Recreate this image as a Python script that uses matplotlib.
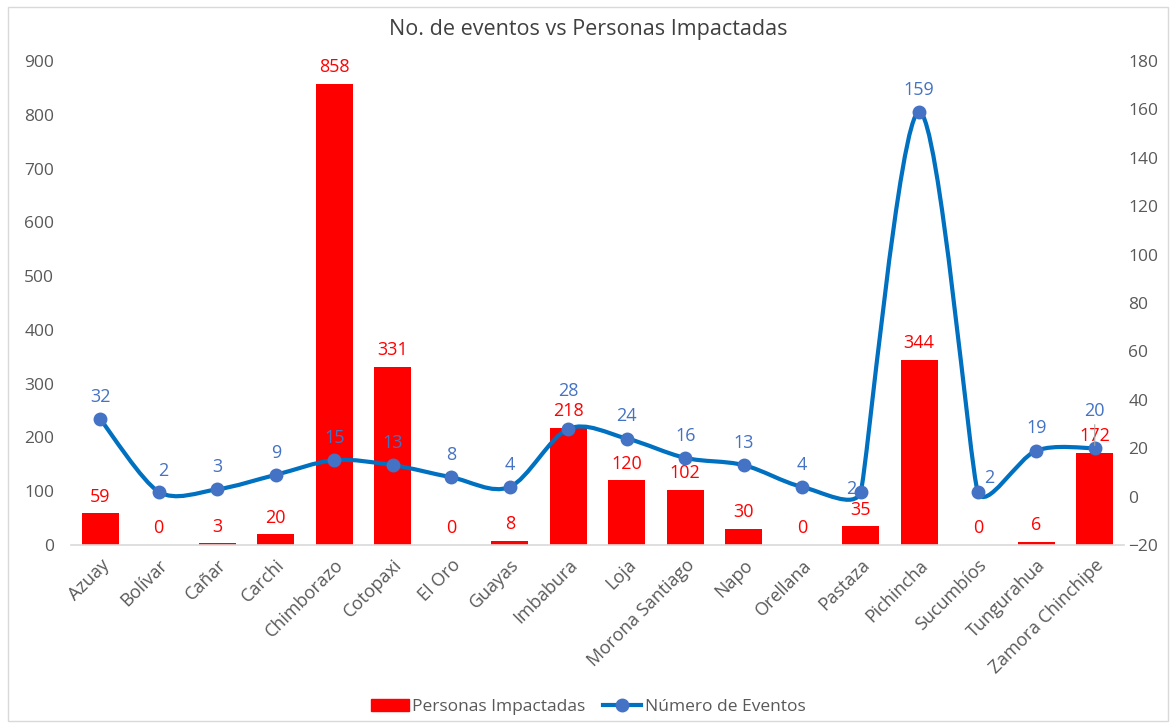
import matplotlib.pyplot as plt
import numpy as np
from matplotlib.path import Path
from matplotlib.patches import PathPatch, Rectangle, Patch
from matplotlib.lines import Line2D

plt.rcParams['font.family'] = ['Open Sans', 'DejaVu Sans']

provincias = ["Azuay", "Bolívar", "Cañar", "Carchi", "Chimborazo", "Cotopaxi",
              "El Oro", "Guayas", "Imbabura", "Loja", "Morona Santiago", "Napo",
              "Orellana", "Pastaza", "Pichincha", "Sucumbíos", "Tungurahua",
              "Zamora Chinchipe"]
personas = [59, 0, 3, 20, 858, 331, 0, 8, 218, 120, 102, 30, 0, 35, 344, 0, 6, 172]
eventos = [32, 2, 3, 9, 15, 13, 8, 4, 28, 24, 16, 13, 4, 2, 159, 2, 19, 20]

ROJO = "#FF0000"
AZUL_LINEA = "#0070C0"
AZUL_PUNTO = "#4472C4"
GRIS = "#595959"

W, H = 1176, 727
fig = plt.figure(figsize=(W / 100, H / 100), dpi=100)
# marco del gráfico
fig.patches.append(Rectangle((8 / W, 6 / H), 1160 / W, 714 / H, transform=fig.transFigure,
                             fill=False, edgecolor="#D9D9D9", linewidth=1))

left, right = 71 / W, 1124 / W
bottom, top = (H - 545) / H, (H - 61) / H
ax = fig.add_axes([left, bottom, right - left, top - bottom])
ax2 = ax.twinx()

x = np.arange(len(provincias))
ax.bar(x, personas, width=0.63, color=ROJO, zorder=2)
ax.set_xlim(-0.5, len(provincias) - 0.5)
ax.set_ylim(0, 900)
ax.set_yticks(range(0, 901, 100))
ax2.set_ylim(-20, 180)
ax2.set_yticks(range(-20, 181, 20))

for a in (ax, ax2):
    for s in a.spines.values():
        s.set_visible(False)
    a.tick_params(length=0, labelsize=12.5, colors=GRIS)
ax.spines["bottom"].set_visible(True)
ax.spines["bottom"].set_color("#D9D9D9")
ax.spines["bottom"].set_linewidth(1.2)
ax.tick_params(axis="y", pad=12)
ax2.tick_params(axis="y", pad=3)

ax.set_xticks(x)
ax.set_xticklabels(provincias, rotation=45, ha="right", rotation_mode="anchor")
ax.tick_params(axis="x", pad=8, labelsize=13)

# curva suavizada (estilo Excel) en coordenadas de pantalla
px_x = (right - left) * W / len(provincias)
px_y = (top - bottom) * H / 200.0
P = np.column_stack([x * px_x, np.array(eventos) * px_y])
n = len(P)
verts = [P[0]]
codes = [Path.MOVETO]
s = 1 / 3


def tangente(i):
    a = P[max(i - 1, 0)]
    b = P[min(i + 1, n - 1)]
    t = (b - a) / 6
    lim = s * min(np.linalg.norm(P[i] - a) if i > 0 else np.inf,
                  np.linalg.norm(b - P[i]) if i < n - 1 else np.inf)
    largo = np.linalg.norm(t)
    if largo > lim:
        t = t / largo * lim
    return t


for i in range(n - 1):
    verts += [P[i] + tangente(i), P[i + 1] - tangente(i + 1), P[i + 1]]
    codes += [Path.CURVE4] * 3
verts = np.array(verts)
verts[:, 0] /= px_x
verts[:, 1] /= px_y
ax2.add_patch(PathPatch(Path(verts, codes), facecolor="none", edgecolor=AZUL_LINEA,
                        linewidth=3, zorder=3, capstyle="round"))
ax2.plot(x, eventos, linestyle="none", marker="o", markersize=9,
         color=AZUL_PUNTO, zorder=4)

# etiquetas de datos
for xi, v in zip(x, personas):
    ax.annotate(str(v), (xi, v), xytext=(0, 12), textcoords="offset points",
                ha="center", va="center", color=ROJO, fontsize=13)
desplazamientos = {"Pastaza": (-7, 2), "Sucumbíos": (8, 10), "Bolívar": (3, 15),
                   "Imbabura": (0, 27), "Zamora Chinchipe": (0, 27)}
for i, (xi, v) in enumerate(zip(x, eventos)):
    dx, dy = desplazamientos.get(provincias[i], (0, 16))
    ax2.annotate(str(v), (xi, v), xytext=(dx, dy), textcoords="offset points",
                 ha="center", va="center", color=AZUL_PUNTO, fontsize=13)
ax2.annotate("", (x[-1], eventos[-1]), xytext=(0, 19), textcoords="offset points",
             arrowprops=dict(arrowstyle="-", color="#A6A6A6", lw=0.8), zorder=5)

fig.text(0.5, (H - 30) / H, "No. de eventos vs Personas Impactadas",
         ha="center", va="center", fontsize=15.5, color="#404040")

handles = [Patch(color=ROJO),
           Line2D([0], [0], color=AZUL_LINEA, linewidth=3, marker="o",
                  markersize=9, markerfacecolor=AZUL_PUNTO, markeredgecolor=AZUL_PUNTO)]
fig.legend(handles, ["Personas Impactadas", "Número de Eventos"], loc="center",
           bbox_to_anchor=(0.5, (H - 707) / H), ncol=2, frameon=False,
           fontsize=12.5, handlelength=2.2, handletextpad=0.2, columnspacing=1.0,
           labelcolor=GRIS)

fig.savefig("out.png", dpi=100)
